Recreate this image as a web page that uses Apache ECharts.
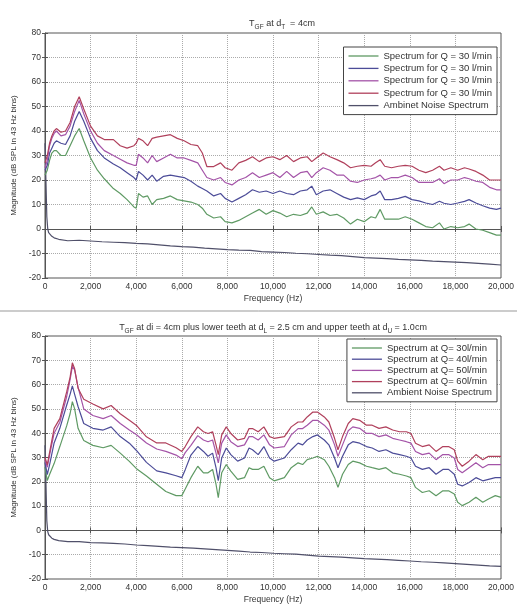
<!DOCTYPE html>
<html>
<head>
<meta charset="utf-8">
<script src="https://cdn.jsdelivr.net/npm/echarts@6/dist/echarts.min.js"></script>
<style>
  html, body { margin: 0; padding: 0; background: #fff; }
  #chart { width: 517px; height: 605px; }
</style>
</head>
<body>
<div id="chart"></div>
<script>
// ---- top plot: T_GF at d_T = 4cm ----
var topFreq = [0, 100, 200, 300, 400, 500, 700, 900, 1100, 1300,
    1500, 1700, 2000, 2300, 2600, 3000, 3300, 3600, 3900, 4000,
    4100, 4300, 4500, 4700, 4900, 5200, 5500, 5800, 6100, 6400,
    6700, 6900, 7100, 7400, 7700, 7900, 8200, 8500, 8800, 9100,
    9400, 9700, 10000, 10300, 10600, 10900, 11200, 11500, 11700, 11900,
    12200, 12500, 12800, 13100, 13400, 13700, 14000, 14300, 14500, 14700,
    14900, 15200, 15500, 15800, 16100, 16400, 16700, 17000, 17300, 17500,
    17800, 18100, 18400, 18600, 18900, 19200, 19500, 19800, 20000];
var topQ1 = [22, 24, 28, 31, 32, 32, 30, 30, 34, 38,
    41, 36, 29, 24, 20.5, 16.5, 14.5, 12, 9, 8.5,
    14.5, 13, 13.5, 10, 12, 12.5, 13.5, 12, 11.5, 11,
    10, 8.5, 6, 4.5, 5, 3, 2.5, 3.5, 5, 6.5,
    8, 6, 7.5, 6.5, 5, 6, 5.5, 6.5, 9, 6,
    7, 5.5, 6, 4.5, 2, 4, 3, 5, 4.5, 8,
    4, 4, 4, 5, 4, 2.5, 1, 0.5, 2.5, 0,
    1, 0.5, 1, 2, 0, -0.5, -1.5, -2.5, -2.5];
var topQ2 = [24, 26, 31, 33, 35, 36, 35, 34.5, 38, 44,
    48, 44, 37, 32, 29, 26.5, 25, 23, 21, 20,
    23.5, 22, 20, 22, 19.5, 21.5, 22, 21.5, 21, 19.5,
    17.5, 16.5, 15.5, 13.5, 14.5, 12.5, 11, 12.5, 14, 16,
    15, 15.5, 14.5, 15.5, 14.5, 14, 15.5, 16, 17.5, 14,
    15.5, 16, 14.5, 13, 12, 12.7, 12, 13.5, 14, 15.5,
    12, 12, 12.5, 13.3, 12, 11.5, 10.6, 10, 11.3, 10.5,
    10, 10.6, 11.3, 12, 10.6, 9.5, 8.5, 8, 8.5];
var topQ3 = [25, 28, 34, 37, 39, 40, 38, 38.5, 42, 48,
    52.5, 47, 40, 35, 32, 30, 28.5, 27, 26, 26,
    30.5, 29, 27, 30, 27.5, 29, 30.5, 29, 29, 28,
    27, 24, 21, 20, 21, 19, 18, 20, 21, 23,
    21, 22, 23, 21, 23.5, 21, 23, 23.5, 21, 23,
    25, 24, 22, 22, 19.5, 19, 20, 20.5, 21, 22,
    20, 21, 21, 22, 21, 19, 19, 19, 20.5, 18.5,
    20, 20, 21, 20.5, 19.5, 19, 17, 16, 16];
var topQ4 = [27, 30, 35, 38, 40, 41, 39.5, 40, 43.5, 50,
    54, 49, 42, 38, 36.5, 36.5, 34, 33, 34, 35,
    37, 36, 34, 37, 37.5, 38, 38.5, 37, 36, 34.5,
    34, 31, 25.5, 25.5, 27, 25, 24, 27, 28, 29.5,
    27.5, 29, 29.5, 28.3, 30, 27.5, 29, 29.5, 27.5, 29,
    31, 29.5, 28.3, 27, 25, 25.6, 26, 25.6, 27, 28.3,
    25.6, 25, 25.6, 26, 25.6, 24, 23, 24, 25.6, 24,
    25, 24, 25, 24.5, 23.5, 22, 20, 20, 20];
var noiseFreq = [0, 40, 80, 120, 160, 200, 300, 400, 600, 1000,
    1500, 2000, 2500, 3000, 3500, 4000, 4500, 5000, 5500, 6000,
    6500, 7000, 7500, 8000, 8500, 9000, 9500, 10000, 10500, 11000,
    11500, 12000, 12500, 13000, 13500, 14000, 14500, 15000, 15500, 16000,
    16500, 17000, 17500, 18000, 18500, 19000, 19500, 20000];
var topNoise = [35, 20, 5, 0, -1.5, -2.2, -3, -3.6, -4.2, -4.8,
    -4.6, -4.9, -5.2, -5.4, -5.6, -5.9, -6.1, -6.5, -6.9, -7.2,
    -7.4, -7.8, -8.1, -8.4, -8.6, -8.7, -9.2, -9.4, -9.6, -9.9,
    -10.1, -10.4, -10.7, -10.9, -11.3, -11.7, -11.9, -12.1, -12.4, -12.6,
    -12.8, -13.1, -13.3, -13.5, -13.7, -14, -14.3, -14.7];

// ---- bottom plot: with teeth ----
var botFreq = [0, 100, 200, 400, 650, 950, 1100, 1200, 1300, 1450,
    1700, 2100, 2550, 2900, 3300, 3700, 4000, 4450, 4900, 5300,
    5750, 6000, 6150, 6400, 6700, 6950, 7150, 7350, 7500, 7600,
    7750, 7950, 8150, 8450, 8750, 8950, 9100, 9350, 9600, 9850,
    10050, 10500, 10800, 11100, 11300, 11500, 11750, 11950, 12250, 12450,
    12700, 12850, 13050, 13300, 13500, 13800, 14100, 14350, 14650, 14950,
    15250, 15550, 15850, 16050, 16250, 16550, 16850, 17150, 17450, 17700,
    17950, 18100, 18300, 18600, 18900, 19200, 19450, 19750, 20000];
var botQ30 = [26, 20.5, 23, 27.5, 34.5, 43, 48, 53, 50, 42,
    37, 35, 34, 35, 31.8, 28.4, 25.5, 22.4, 19, 16,
    14.3, 14.3, 17, 21.7, 26.4, 23.7, 23.7, 25.1, 19, 13.5,
    23.7, 27.1, 24.4, 21, 21.7, 25.8, 25.1, 25.1, 26.4, 21.7,
    20.4, 21.7, 25.8, 27.8, 27.1, 29.1, 29.8, 30.5, 29.1, 26.4,
    21.7, 17.7, 23.1, 27.1, 28.5, 27.8, 26.4, 25.8, 25.1, 25.8,
    23.7, 23.1, 22.4, 21.7, 17.7, 15.6, 16.3, 14.3, 16.3, 16.3,
    15, 11.6, 10.2, 11.6, 13.6, 11.6, 12.9, 14.3, 13.6];
var botQ40 = [28, 23, 27, 36, 42, 51.5, 56, 59.5, 56, 51,
    44, 42, 41.3, 42.6, 38.6, 35.9, 33, 28, 24.5, 23.7,
    22.5, 21.7, 25, 31, 34.5, 32.5, 30.5, 31.8, 25.8, 20.5,
    29.8, 33.9, 31.2, 28.5, 29.8, 33.9, 33.2, 31.2, 34.5, 29.8,
    28.5, 29.8, 33.2, 35.9, 35.2, 37.2, 38.6, 39.3, 37.2, 35.2,
    29.8, 25.8, 30.5, 35.2, 36.5, 35.9, 34.5, 33.9, 32.5, 33.2,
    31.8, 31.2, 30.5, 29.8, 26.4, 25.1, 25.8, 23.1, 25.1, 25.1,
    23.1, 19, 18.3, 19.7, 21.7, 20.4, 21, 21.7, 21.7];
var botQ50 = [29, 26, 31, 40, 44.5, 55, 62, 67.5, 66, 59,
    50, 47.3, 46, 47.3, 44, 41.3, 39.5, 36, 33.5, 32.5,
    31, 29.5, 32, 35, 39, 37.2, 36.5, 37.2, 31.8, 27.8,
    35.9, 39.3, 36.5, 34.5, 35.2, 38.6, 38.6, 37.2, 39.3, 35.2,
    33.9, 34.5, 39.3, 41.9, 41.9, 43.3, 45.3, 45.3, 43.3, 41.3,
    35.2, 30.5, 35.2, 41, 42.6, 42, 39.9, 39.9, 38.6, 39.3,
    37.9, 37.2, 36.5, 35.9, 32.5, 31.2, 31.8, 29.1, 31.2, 31.2,
    29.8, 25.1, 23.7, 25.8, 27.8, 25.8, 27.1, 27.1, 27.1];
var botQ60 = [30, 27, 32, 42, 46, 57, 63, 69, 66.5, 58.5,
    54, 52, 50, 51.4, 48, 45.3, 43.3, 38.5, 36, 36,
    34, 32.5, 34.5, 38.6, 42.6, 40.6, 39.9, 40.6, 35.2, 31.2,
    39.3, 42.6, 39.9, 37.2, 37.9, 41.9, 41.9, 40.6, 42.6, 38.6,
    37.9, 38.6, 42.6, 44.6, 44.6, 46.7, 48.7, 48.7, 46.7, 44.6,
    37.9, 33.2, 38.6, 44, 46, 45.3, 43.3, 43.3, 42, 42.6,
    41.3, 40.6, 40.6, 39.9, 35.9, 34.5, 35.2, 32.5, 34.5, 34.5,
    33.2, 28.5, 26.4, 28.5, 31.2, 29.1, 30.5, 30.5, 30.5];
var botNoise = [35, 20, 4, -0.5, -1.8, -2.4, -3.2, -3.7, -4.2, -4.6,
    -4.6, -5, -5.1, -5.3, -5.6, -6, -6.3, -6.6, -6.9, -7.1,
    -7.3, -7.6, -7.9, -8.2, -8.5, -8.9, -9.1, -9.4, -9.6, -9.8,
    -10.2, -10.6, -10.8, -11, -11.3, -11.6, -11.8, -12, -12.3, -12.6,
    -12.9, -13.1, -13.4, -13.7, -14, -14.3, -14.6, -14.8];

var topNames = ['Spectrum for Q = 30 l/min', 'Spectrum for Q = 30 l/min',
    'Spectrum for Q = 30 l/min', 'Spectrum for Q = 30 l/min', 'Ambinet Noise Spectrum'];
var botNames = ['Spectrum at Q= 30l/min', 'Spectrum at Q= 40l/min',
    'Spectrum at Q= 50l/min', 'Spectrum at Q= 60l/min', 'Ambient Noise Spectrum'];

var colors = ['#5f9a64', '#4c4c98', '#a454a8', '#b0405c', '#50506a'];
var FONT = '"Liberation Sans", Arial, sans-serif';

function pairs(xs, ys) {
    return xs.map(function (x, i) { return [x, ys[i]]; });
}

// legend keys must be unique, the labels are not (top plot repeats its label)
var legendText = {};
topNames.forEach(function (n, i) { legendText['t' + i] = n; });
botNames.forEach(function (n, i) { legendText['b' + i] = n; });

function xAxisFor(grid, labels) {
    return {
        type: 'value', gridIndex: grid, min: 0, max: 20000, interval: 2000,
        position: labels ? 'bottom' : 'top',
        name: labels ? 'Frequency (Hz)' : '',
        nameLocation: 'middle', nameGap: 16,
        nameTextStyle: { fontFamily: FONT, fontSize: 8.5, color: '#333' },
        axisLine: { show: labels, lineStyle: { color: '#555' } },
        axisTick: { inside: true, length: 3, lineStyle: { color: '#555' } },
        axisLabel: {
            show: labels, fontFamily: FONT, fontSize: 8.5, color: '#333', margin: 4,
            formatter: function (v) { return v.toLocaleString('en-US'); }
        },
        splitLine: { show: labels, lineStyle: { type: 'dotted', color: '#aaa' } }
    };
}

function yAxisFor(grid, labels) {
    return {
        type: 'value', gridIndex: grid, min: -20, max: 80, interval: 10,
        position: labels ? 'left' : 'right',
        name: labels ? 'Magnitude (dB SPL in 43 Hz bins)' : '',
        nameLocation: 'middle', nameGap: 21, nameRotate: 90,
        nameTextStyle: { fontFamily: FONT, fontSize: 8, color: '#333' },
        axisLine: { show: labels, lineStyle: { color: '#555' } },
        axisTick: { inside: true, length: 3, lineStyle: { color: '#555' } },
        axisLabel: { show: labels, fontFamily: FONT, fontSize: 8.5, color: '#333', margin: 4 },
        splitLine: { show: labels, lineStyle: { type: 'dotted', color: '#aaa' } }
    };
}

function lineSeries(key, grid, xs, ys, color) {
    return {
        name: key, type: 'line', xAxisIndex: grid, yAxisIndex: grid,
        data: pairs(xs, ys), symbol: 'none', silent: true,
        lineStyle: { width: 1.2, color: color },
        itemStyle: { color: color }
    };
}

// MATLAB style legend: a thin line sample, no marker
function legendFor(keys, top, gap) {
    return {
        data: keys, orient: 'vertical', right: 20, top: top,
        icon: 'rect', itemWidth: 30, itemHeight: 1.3, itemGap: gap,
        padding: [4, 5, 4, 5],
        backgroundColor: '#fff', borderColor: '#444', borderWidth: 1, borderRadius: 0,
        textStyle: { fontFamily: FONT, fontSize: 9.5, color: '#333', lineHeight: 10 },
        formatter: function (n) { return legendText[n]; },
        selectedMode: false
    };
}

var sub = {
    n: { fontFamily: FONT, fontSize: 9, fontWeight: 'normal', color: '#333', lineHeight: 14, verticalAlign: 'middle' },
    s: { fontFamily: FONT, fontSize: 6.5, fontWeight: 'normal', color: '#333', lineHeight: 14, verticalAlign: 'bottom' }
};

var option = {
    animation: false,
    backgroundColor: '#fff',
    title: [{
        text: '{n|T}{s|GF}{n| at d}{s|T}{n|  = 4cm}',
        left: 277, top: 12, textAlign: 'center',
        textStyle: { fontWeight: 'normal', rich: sub }
    }, {
        text: '{n|T}{s|GF}{n| at di = 4cm plus lower teeth at d}{s|L}{n| = 2.5 cm and upper teeth at d}{s|U}{n| = 1.0cm}',
        left: 268, top: 316, textAlign: 'center',
        textStyle: { fontWeight: 'normal', rich: sub }
    }],
    grid: [
        { left: 45, top: 33, width: 457, height: 245, show: true, borderColor: '#555', borderWidth: 1 },
        { left: 45, top: 336, width: 457, height: 247, show: true, borderColor: '#555', borderWidth: 1 }
    ],
    xAxis: [xAxisFor(0, true), xAxisFor(1, true), xAxisFor(0, false), xAxisFor(1, false)],
    yAxis: [yAxisFor(0, true), yAxisFor(1, true), yAxisFor(0, false), yAxisFor(1, false)],
    legend: [legendFor(['t0', 't1', 't2', 't3', 't4'], 47, 2.4), legendFor(['b0', 'b1', 'b2', 'b3', 'b4'], 339, 1.2)],
    graphic: [{
        type: 'line', shape: { x1: 0, y1: 311, x2: 517, y2: 311 },
        style: { stroke: '#999', lineWidth: 1 }, silent: true
    }],
    series: [
        lineSeries('t4', 0, noiseFreq, topNoise, colors[4]),
        lineSeries('t0', 0, topFreq, topQ1, colors[0]),
        lineSeries('t1', 0, topFreq, topQ2, colors[1]),
        lineSeries('t2', 0, topFreq, topQ3, colors[2]),
        lineSeries('t3', 0, topFreq, topQ4, colors[3]),
        lineSeries('b4', 1, noiseFreq, botNoise, colors[4]),
        lineSeries('b0', 1, botFreq, botQ30, colors[0]),
        lineSeries('b1', 1, botFreq, botQ40, colors[1]),
        lineSeries('b2', 1, botFreq, botQ50, colors[2]),
        lineSeries('b3', 1, botFreq, botQ60, colors[3])
    ]
};

var chart = echarts.init(document.getElementById('chart'), null, { renderer: 'canvas' });
chart.setOption(option);
</script>
</body>
</html>
